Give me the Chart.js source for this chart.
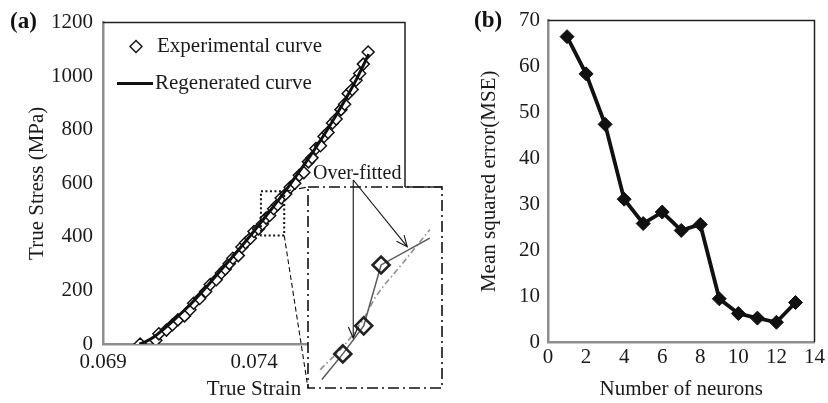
<!DOCTYPE html>
<html><head><meta charset="utf-8">
<script src="https://cdn.jsdelivr.net/npm/chart.js@4.4.1/dist/chart.umd.min.js"></script>
<style>
html,body{margin:0;padding:0;background:#fff;}
#wrap{position:relative;width:828px;height:403px;overflow:hidden;background:#fff;}
canvas{position:absolute;display:block;}
#cA{left:0;top:0;}
#cB{left:420px;top:0;}
#cI{left:250px;top:160px;}
.lab{position:absolute;font-family:'Liberation Serif',serif;font-weight:bold;font-size:23px;color:#111;line-height:1;}
</style></head><body>
<div id="wrap">
<canvas id="cA" width="420" height="403"></canvas>
<canvas id="cB" width="408" height="403"></canvas>
<canvas id="cI" width="200" height="240"></canvas>
<div class="lab" style="left:10px;top:9px">(a)</div>
<div class="lab" style="left:474px;top:8px">(b)</div>
</div>
<script>
// ---------- Panel (a) data ----------
const strainTicks = [0.069, 0.074];
const stressTicks = [0, 200, 400, 600, 800, 1000, 1200];
const expStrain = [0.07023,0.07075,0.07085,0.07110,0.07130,0.07148,0.07170,0.07188,0.07200,0.07220,
  0.07240,0.07255,0.07275,0.07292,0.07305,0.07318,0.07330,0.07348,0.07360,0.07372,
  0.07388,0.07400,0.07415,0.07428,0.07440,0.07452,0.07465,0.07478,0.07490,0.07505,
  0.07520,0.07535,0.07550,0.07565,0.07580,0.07592,0.07605,0.07620,0.07632,0.07645,
  0.07660,0.07672,0.07688,0.07700,0.07712,0.07725,0.07738,0.07750,0.07762,0.07778];
const expStress = [0,14,38,52,72,90,105,128,152,170,
  196,222,240,265,280,300,320,330,362,378,
  395,420,430,448,470,480,505,520,545,560,
  585,600,630,640,680,695,730,740,775,790,
  825,840,875,895,935,950,985,1010,1045,1090];
const regStrain = [0.07020,0.07040,0.07067,0.07100,0.07140,0.07180,0.07220,0.07260,0.07300,0.07340,
  0.07380,0.07420,0.07460,0.07500,0.07540,0.07580,0.07620,0.07660,0.07700,0.07740,0.07780];
const regStress = [0,8,25,55,95,137,185,236,288,340,394,450,507,566,628,692,760,832,908,990,1082];
const zoomStrainRange = [0.07423, 0.07500];
const zoomStressRange = [405, 570];
// inset (zoomed) data
const insetFitStrain = [0.07431,0.07443,0.07455,0.07465,0.07493];
const insetFitStress = [412,433,456,506,528];
const insetFitMarked = [false,true,true,true,false];
const insetRegStrain = [0.07430,0.07445,0.07455,0.07462,0.07476,0.07493];
const insetRegStress = [420,442,462,480,505,535];
const arrowTips = [[0.07449,446],[0.07480,521]];
// ---------- Panel (b) data ----------
const neurons = [1,2,3,4,5,6,7,8,9,10,11,12,13];
const mse = [66.5,58.4,47.4,31.1,25.8,28.3,24.3,25.6,9.4,6.2,5.2,4.3,8.6];
const neuronTicks = [0,2,4,6,8,10,12,14];
const mseTicks = [0,10,20,30,40,50,60,70];

const FONT = "'Liberation Serif', 'Times New Roman', serif";
const TXT = '#1a1a1a';
const AXIS_GRAY = '#8e8e8e';
const FS = 21;

function frameLines(ctx, a){
  ctx.save();
  ctx.strokeStyle = '#222'; ctx.lineWidth = 1.5;
  ctx.beginPath();
  ctx.moveTo(a.left, a.top); ctx.lineTo(a.right, a.top); ctx.lineTo(a.right, a.bottom);
  ctx.stroke();
  ctx.restore();
}

const frameA = {
  id:'frameA',
  afterDraw(chart){
    const {ctx, chartArea:a, scales:{x,y}} = chart;
    frameLines(ctx, a);
    // dotted zoom box
    const x1 = x.getPixelForValue(zoomStrainRange[0]), x2 = x.getPixelForValue(zoomStrainRange[1]);
    const y1 = y.getPixelForValue(zoomStressRange[1]), y2 = y.getPixelForValue(zoomStressRange[0]);
    ctx.save();
    ctx.strokeStyle = '#111'; ctx.lineWidth = 2; ctx.setLineDash([2,2.5]);
    ctx.strokeRect(x1, y1, x2-x1, y2-y1);
    ctx.restore();
    // legend
    const ds0 = chart.data.datasets[1], ds1 = chart.data.datasets[0];
    ctx.save();
    ctx.font = `${FS}px ${FONT}`; ctx.textBaseline = 'middle'; ctx.textAlign='left';
    const lx = a.left + 33, ly1 = a.top + 24, ly2 = a.top + 61;
    ctx.strokeStyle = ds0.borderColor; ctx.lineWidth = 1.4; ctx.fillStyle='#fff';
    ctx.beginPath();
    ctx.moveTo(lx-6, ly1); ctx.lineTo(lx, ly1-6); ctx.lineTo(lx+6, ly1); ctx.lineTo(lx, ly1+6); ctx.closePath();
    ctx.fill(); ctx.stroke();
    ctx.fillStyle = TXT;
    ctx.fillText(ds0.label, a.left + 54, ly1);
    ctx.strokeStyle = ds1.borderColor; ctx.lineWidth = 3;
    ctx.beginPath(); ctx.moveTo(a.left+14, ly2); ctx.lineTo(a.left+50, ly2); ctx.stroke();
    ctx.fillText(ds1.label, a.left + 52, ly2);
    ctx.restore();
  }
};

function tickFont(){ return {family: FONT, size: FS}; }

const chartA = new Chart(document.getElementById('cA'), {
  type:'scatter',
  data:{datasets:[
    {label:'Regenerated curve', data: regStrain.map((v,i)=>({x:v, y:regStress[i]})), showLine:true,
     borderColor:'#111', borderWidth:3, pointRadius:0, tension:0.3, order:0},
    {label:'Experimental curve', data: expStrain.map((v,i)=>({x:v, y:expStress[i]})), showLine:false,
     pointStyle:'rectRot', pointRadius:6, borderColor:'#111', pointBorderWidth:1.5, borderWidth:1.5,
     backgroundColor:'#fff', pointBackgroundColor:'#fff', order:1}
  ]},
  options:{
    responsive:false, animation:false, devicePixelRatio:1,
    layout:{padding:{left:0, top:16, right:15, bottom:0}},
    plugins:{legend:{display:false}, tooltip:{enabled:false}},
    scales:{
      x:{type:'linear', min:0.069, max:0.079,
        afterBuildTicks: s=>{ s.ticks = strainTicks.map(v=>({value:v})); },
        afterFit: s=>{ s.height = 59; },
        grid:{display:false, drawTicks:false},
        border:{display:true, color:AXIS_GRAY, width:2.5},
        ticks:{padding:6, color:TXT, font:tickFont(), callback:v=>Number(v).toFixed(3), maxRotation:0},
        title:{display:true, text:'True Strain', color:TXT, font:tickFont(), padding:{top:0,bottom:1}}
      },
      y:{type:'linear', min:0, max:1200,
        afterBuildTicks: s=>{ s.ticks = stressTicks.map(v=>({value:v})); },
        afterFit: s=>{ s.width = 103; },
        grid:{display:false, drawTicks:false},
        border:{display:true, color:AXIS_GRAY, width:2.5},
        ticks:{padding:10, color:TXT, font:tickFont(), callback:v=>String(v)},
        title:{display:true, text:'True Stress (MPa)', color:TXT, font:tickFont(), padding:{top:25,bottom:0}}
      }
    }
  },
  plugins:[frameA]
});

// ---------- inset ----------
const CAN_I = {left:250, top:160};
function arrow(ctx, x0, y0, x1, y1){
  ctx.beginPath(); ctx.moveTo(x0,y0); ctx.lineTo(x1,y1); ctx.stroke();
  const ang = Math.atan2(y1-y0, x1-x0), L = 12, w = 0.42;
  ctx.beginPath();
  ctx.moveTo(x1 - L*Math.cos(ang - w), y1 - L*Math.sin(ang - w));
  ctx.lineTo(x1, y1);
  ctx.lineTo(x1 - L*Math.cos(ang + w), y1 - L*Math.sin(ang + w));
  ctx.stroke();
}
const insetPlugin = {
  id:'insetPlugin',
  beforeDraw(chart){
    const {ctx, chartArea:a} = chart;
    ctx.save();
    ctx.fillStyle = '#fff';
    ctx.fillRect(a.left, a.top, a.right-a.left, a.bottom-a.top);
    const sx = chartA.scales.x, sy = chartA.scales.y;
    const bx = sx.getPixelForValue(zoomStrainRange[1]) - CAN_I.left;
    const byTop = sy.getPixelForValue(zoomStressRange[1]) - CAN_I.top;
    const byBot = sy.getPixelForValue(zoomStressRange[0]) - CAN_I.top;
    ctx.strokeStyle = '#111'; ctx.lineWidth = 1.1; ctx.setLineDash([5,3]);
    ctx.beginPath(); ctx.moveTo(bx, byBot); ctx.lineTo(a.left, a.bottom); ctx.stroke();
    ctx.setLineDash([7,3,2,3]);
    ctx.beginPath(); ctx.moveTo(bx, byTop); ctx.lineTo(a.left, a.top); ctx.stroke();
    ctx.restore();
  },
  afterDraw(chart){
    const {ctx, chartArea:a, scales:{x,y}} = chart;
    ctx.save();
    ctx.strokeStyle = '#111'; ctx.lineWidth = 1.6; ctx.setLineDash([11,4,2,4]);
    ctx.strokeRect(a.left, a.top, a.right-a.left, a.bottom-a.top);
    ctx.setLineDash([]);
    const mainRight = chartA.chartArea.right - CAN_I.left;
    ctx.lineWidth = 1.5; ctx.strokeStyle = '#222';
    ctx.beginPath(); ctx.moveTo(mainRight, a.top); ctx.lineTo(a.right, a.top); ctx.stroke();
    ctx.font = `20px ${FONT}`; ctx.fillStyle = TXT; ctx.textBaseline='middle'; ctx.textAlign='left';
    ctx.fillText('Over-fitted', a.left + 5, a.top - 13);
    ctx.strokeStyle = '#111'; ctx.lineWidth = 1.1;
    const ox = x.getPixelForValue(arrowTips[0][0]), oy = a.top - 7;
    arrowTips.forEach(t=>{
      arrow(ctx, ox, oy, x.getPixelForValue(t[0]), y.getPixelForValue(t[1]));
    });
    ctx.restore();
  }
};
const chartI = new Chart(document.getElementById('cI'), {
  type:'scatter',
  data:{datasets:[
    {data: insetRegStrain.map((v,i)=>({x:v,y:insetRegStress[i]})), showLine:true, borderColor:'#909090',
     borderWidth:1.6, borderDash:[6,3,1.5,3], pointRadius:0, cubicInterpolationMode:'monotone', order:1},
    {data: insetFitStrain.map((v,i)=>({x:v,y:insetFitStress[i]})), showLine:true, borderColor:'#5a5a5a',
     borderWidth:1.5, pointStyle:'rectRot', pointRadius: insetFitMarked.map(m=>m?8.5:0),
     pointBorderColor:'#222', pointBorderWidth:2.6, pointBackgroundColor:'rgba(255,255,255,0)', tension:0, order:0}
  ]},
  options:{
    responsive:false, animation:false, devicePixelRatio:1,
    layout:{padding:{left:58, top:27, right:8, bottom:12}},
    plugins:{legend:{display:false}, tooltip:{enabled:false}},
    scales:{
      x:{type:'linear', display:false, min:zoomStrainRange[0], max:zoomStrainRange[1]},
      y:{type:'linear', display:false, min:zoomStressRange[0], max:zoomStressRange[1]}
    }
  },
  plugins:[insetPlugin]
});

// ---------- Panel (b) ----------
const frameB = { id:'frameB', afterDraw(chart){ frameLines(chart.ctx, chart.chartArea); } };
new Chart(document.getElementById('cB'), {
  type:'line',
  data:{datasets:[{
    data: neurons.map((v,i)=>({x:v, y:mse[i]})), borderColor:'#111', backgroundColor:'#111',
    borderWidth:3.8, pointStyle:'rectRot', pointRadius:7, pointBorderWidth:1,
    pointBackgroundColor:'#111', pointBorderColor:'#111', tension:0
  }]},
  options:{
    responsive:false, animation:false, devicePixelRatio:1,
    layout:{padding:{left:0, top:16, right:11, bottom:0}},
    plugins:{legend:{display:false}, tooltip:{enabled:false}},
    scales:{
      x:{type:'linear', min:0, max:14,
        afterBuildTicks: s=>{ s.ticks = neuronTicks.map(v=>({value:v})); },
        afterFit: s=>{ s.height = 61; },
        grid:{display:false, drawTicks:false},
        border:{display:true, color:AXIS_GRAY, width:2.5},
        ticks:{padding:3, color:TXT, font:tickFont(), maxRotation:0},
        title:{display:true, text:'Number of neurons', color:TXT, font:tickFont(), padding:{top:0,bottom:1}}
      },
      y:{type:'linear', min:0, max:70,
        afterBuildTicks: s=>{ s.ticks = mseTicks.map(v=>({value:v})); },
        afterFit: s=>{ s.width = 128; },
        grid:{display:false, drawTicks:false},
        border:{display:true, color:AXIS_GRAY, width:2.5},
        ticks:{padding:8, color:TXT, font:tickFont()},
        title:{display:true, text:'Mean squared error(MSE)', color:TXT, font:tickFont(), padding:{top:57,bottom:0}}
      }
    }
  },
  plugins:[frameB]
});
</script>
</body></html>
